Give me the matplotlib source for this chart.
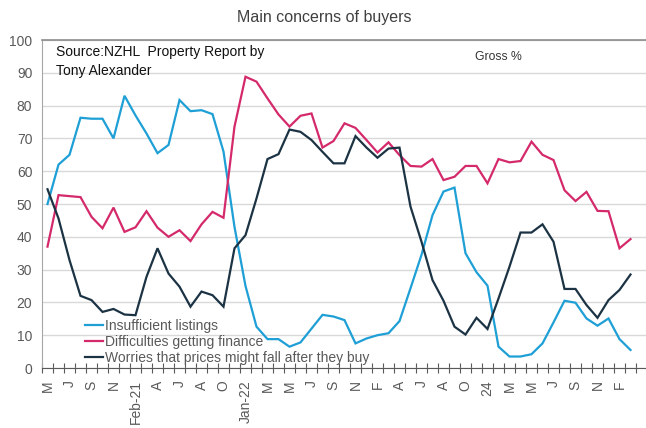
import matplotlib
matplotlib.use("Agg")
import matplotlib.pyplot as plt
import numpy as np

plt.rcParams['font.family'] = ['Liberation Sans', 'DejaVu Sans']

title = "Main concerns of buyers"
series_names = ["Insufficient listings", "Difficulties getting finance",
                "Worries that prices might fall after they buy"]

# tick labels shown every second survey month
tick_labels = ["M", "J", "S", "N", "Feb-21", "A", "J", "A", "O", "Jan-22", "M", "M", "J",
               "S", "N", "F", "A", "J", "A", "O", "24", "M", "M", "J", "S", "N", "F"]

insufficient = [50, 62, 65, 76.3, 76, 76, 70, 83, 77, 71.5,
                65.5, 68, 81.7, 78.3, 78.6, 77.4, 66, 43, 25, 12.6,
                8.8, 8.8, 6.5, 7.8, 12, 16.2, 15.7, 14.6, 7.5, 9,
                10, 10.6, 14.3, 24.3, 34.5, 46.6, 53.8, 55, 35, 29.2,
                25.1, 6.5, 3.5, 3.5, 4.2, 7.5, 13.9, 20.5, 19.9, 15.1,
                12.9, 15.1, 8.8, 5.5]
finance = [37, 52.7, 52.4, 52.1, 46.1, 42.6, 48.9, 41.5, 42.9, 47.8,
           42.8, 40, 42, 38.7, 43.8, 47.6, 45.8, 73.6, 88.8, 87.3,
           82.2, 77.3, 73.6, 76.9, 77.6, 67.2, 69.2, 74.6, 73.2, 69.5,
           65.7, 68.8, 64.9, 61.6, 61.4, 63.7, 57.3, 58.3, 61.6, 61.6,
           56.3, 63.7, 62.7, 63.1, 69, 65, 63.4, 54.2, 50.9, 53.7,
           47.9, 47.8, 36.5, 39.3]
worries = [54.5, 45.6, 32.9, 22, 20.7, 17.1, 18, 16.3, 16.1, 27.8,
           36.5, 28.8, 24.8, 18.7, 23.3, 22.2, 18.7, 36.5, 40.5, 51.7,
           63.7, 65.2, 72.7, 72, 69.5, 65.9, 62.4, 62.4, 70.7, 67.2,
           64.1, 66.9, 67.2, 49.2, 38.5, 26.8, 20.5, 12.6, 10.2, 15.3,
           11.9, 21.2, 30.9, 41.3, 41.3, 43.8, 38.5, 24.1, 24.1, 19.2,
           15.3, 20.7, 23.8, 28.5]

colors = ["#1E9FD6", "#D42A6B", "#1C3344"]

W, H = 646, 428
fig = plt.figure(figsize=(W / 100, H / 100), dpi=100)
left, right, top, bottom = 42, 646, 40, 368
ax = fig.add_axes([left / W, (H - bottom) / H, (right - left) / W, (bottom - top) / H])

n = len(insufficient)
x = np.arange(n)
for vals, c, name in zip([insufficient, finance, worries], colors, series_names):
    ax.plot(x, vals, color=c, lw=1.6, label=name, solid_joinstyle='miter')

step = 11.0
ax.set_xlim(-0.5, -0.5 + (right - left) / step)
ax.set_ylim(0, 100)
ax.set_yticks(np.arange(0, 101, 10))
ax.yaxis.grid(True, color="#D9D9D9", lw=1)
ax.set_axisbelow(True)
ax.tick_params(axis='y', length=0, pad=7, labelsize=10, labelcolor="#595959")

# category boundary ticks
ax.set_xticks(np.arange(-0.5, n + 0.5, 1.0))
ax.tick_params(axis='x', which='major', direction='inout', length=7, width=0.8,
               color="#595959", labelbottom=False)
ax.set_xticks(np.arange(0, n, 2), tick_labels, minor=True)
ax.tick_params(axis='x', which='minor', length=0, pad=9, labelsize=10,
               labelcolor="#595959", labelrotation=90)

ax.spines['right'].set_visible(False)
ax.spines['top'].set_color("#8C8C8C")
ax.spines['top'].set_linewidth(1.2)
ax.spines['left'].set_color("#A6A6A6")
ax.spines['bottom'].set_color("#595959")
ax.spines['bottom'].set_linewidth(0.8)

fig.text(324 / W, 1 - 17.5 / H, title, ha='center', va='center', fontsize=11.5, color="#404040")
fig.text(56 / W, 1 - 45 / H, "Source:NZHL  Property Report by\nTony Alexander", ha='left', va='top',
         fontsize=10, color="#111111", linespacing=1.45)
fig.text(498 / W, 1 - 57 / H, "Gross %", ha='center', va='center', fontsize=8.8, color="#333333")

leg = ax.legend(loc='lower left', bbox_to_anchor=(85 / W, (H - 365) / H),
                bbox_transform=fig.transFigure, frameon=False, fontsize=10,
                handlelength=1.3, handletextpad=0.15, labelspacing=0.15, borderpad=0,
                borderaxespad=0)
for t in leg.get_texts():
    t.set_color("#595959")

fig.savefig("out.png", dpi=100)
